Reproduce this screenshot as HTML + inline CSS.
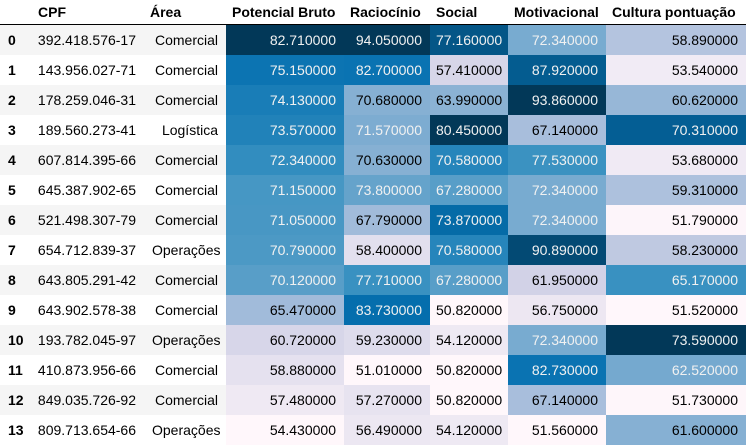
<!DOCTYPE html>
<html><head><meta charset="utf-8"><style>
body{margin:0;background:#fff;font-family:"Liberation Sans",sans-serif;font-size:14px;color:#000;}
table{border-collapse:collapse;position:absolute;left:0;top:0;width:746px;table-layout:fixed;}
th,td{padding:0 8px 0 6px;white-space:nowrap;overflow:hidden;}
thead th{height:24px;font-weight:bold;text-align:left;border-bottom:1px solid #000;vertical-align:middle;padding:0 0 0 6px;}
thead th:nth-child(2){padding-left:10px;}
thead th:nth-child(3){padding-left:4px;}
tbody tr{height:30px;}
tbody tr:nth-child(odd){background:#f5f5f5;}
tbody th{font-weight:bold;text-align:left;padding-left:8px;}
td{text-align:right;}
</style></head><body>
<table>
<colgroup><col style="width:28px"><col style="width:118px"><col style="width:80px"><col style="width:118px"><col style="width:86px"><col style="width:78px"><col style="width:98px"><col style="width:140px"></colgroup>
<thead><tr>
<th></th>
<th>CPF</th>
<th>Área</th>
<th>Potencial Bruto</th>
<th>Raciocínio</th>
<th>Social</th>
<th>Motivacional</th>
<th>Cultura pontuação</th>
</tr></thead>
<tbody id="tb"></tbody></table>
<script>
const cpf=["392.418.576-17","143.956.027-71","178.259.046-31","189.560.273-41","607.814.395-66","645.387.902-65","521.498.307-79","654.712.839-37","643.805.291-42","643.902.578-38","193.782.045-97","410.873.956-66","849.035.726-92","809.713.654-66"];
const area=["Comercial","Comercial","Comercial","Logística","Comercial","Comercial","Comercial","Operações","Comercial","Comercial","Operações","Comercial","Comercial","Operações"];
const potencial=[82.71,75.15,74.13,73.57,72.34,71.15,71.05,70.79,70.12,65.47,60.72,58.88,57.48,54.43];
const raciocinio=[94.05,82.70,70.68,71.57,70.63,73.80,67.79,58.40,77.71,83.73,59.23,51.01,57.27,56.49];
const social=[77.16,57.41,63.99,80.45,70.58,67.28,73.87,70.58,67.28,50.82,54.12,50.82,50.82,54.12];
const motivacional=[72.34,87.92,93.86,67.14,77.53,72.34,72.34,90.89,61.95,56.75,72.34,82.73,67.14,51.56];
const cultura=[58.89,53.54,60.62,70.31,53.68,59.31,51.79,58.23,65.17,51.52,73.59,62.52,51.73,61.60];
const numCols=[["potencial",potencial],["raciocinio",raciocinio],["social",social],["motivacional",motivacional],["cultura",cultura]];
const stops=["#fff7fb","#ece7f2","#d0d1e6","#a6bddb","#74a9cf","#3690c0","#0570b0","#045a8d","#023858"].map(h=>[1,3,5].map(i=>parseInt(h.substr(i,2),16)/255));
function cont(t){t=t*8;const i=Math.min(7,Math.floor(t)),f=t-i;return stops[i].map((c,k)=>c+(stops[i+1][k]-c)*f);}
function cmap(t){let xi=Math.floor(t*256);xi=Math.max(0,Math.min(255,xi));return cont(xi/255);}
function lum(c){const l=c.map(v=>v<=0.03928?v/12.92:Math.pow((v+0.055)/1.055,2.4));return 0.2126*l[0]+0.7152*l[1]+0.0722*l[2];}
const tb=document.getElementById('tb');
for(let r=0;r<cpf.length;r++){
 const tr=document.createElement('tr');
 
 
 const th=document.createElement('th');th.textContent=r;
 
 
 tr.appendChild(th);
 const c1=document.createElement('td');c1.textContent=cpf[r];c1.style.paddingRight='10px';
 
 
 tr.appendChild(c1);
 const c2=document.createElement('td');c2.textContent=area[r];
 
 
 tr.appendChild(c2);
 for(const [nm,arr] of numCols){
  const mn=Math.min(...arr),mx=Math.max(...arr);
  const col=cmap((arr[r]-mn)/(mx-mn));
  const td=document.createElement('td');
  td.textContent=arr[r].toFixed(6);
  
  
  td.style.background='rgb('+col.map(v=>Math.round(v*255)).join(',')+')';
  td.style.color=lum(col)<0.408?'#f1f1f1':'#000';
  tr.appendChild(td);
 }
 tb.appendChild(tr);
}
</script>
</body></html>
